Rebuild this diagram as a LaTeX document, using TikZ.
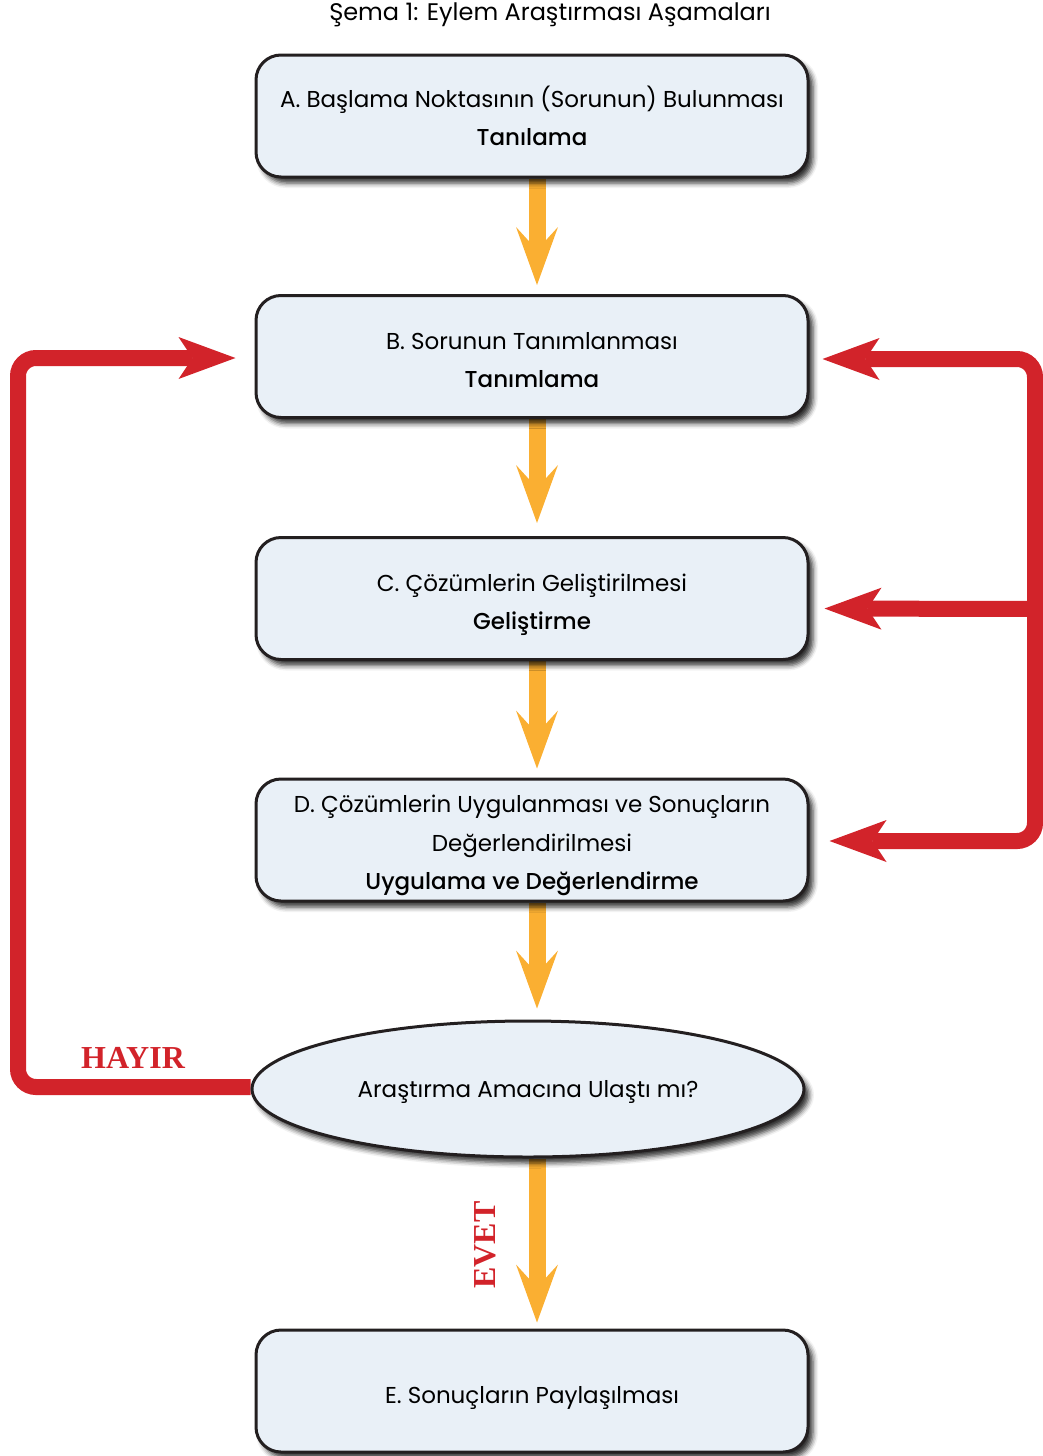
\documentclass[tikz,border=0pt]{standalone}
\usepackage{fontspec}
\setmainfont{Poppins}[BoldFont={Poppins Medium}]
\newfontfamily\answerfont{Liberation Serif}
\usetikzlibrary{arrows.meta,shapes.geometric,shadows.blur}
\definecolor{boxfill}{RGB}{233,240,247}
\definecolor{boxline}{RGB}{35,31,32}
\definecolor{flowred}{RGB}{210,35,42}
\definecolor{floworange}{RGB}{250,175,50}
\pgfdeclarelayer{back}
\pgfsetlayers{back,main}
% invisible strut that lowers the text block inside a box
\newcommand\topstrut[1]{\rule{0pt}{#1}}
\tikzset{
  boxshadow/.style={blur shadow={shadow xshift=5pt, shadow yshift=-6pt,
      shadow blur radius=5pt, shadow opacity=80}},
  stage/.style={draw=boxline, line width=3pt, fill=boxfill, rounded corners=25pt,
      minimum width=552pt, minimum height=122pt, inner sep=0pt, align=center,
      font=\fontsize{23}{38}\selectfont, boxshadow},
  decision/.style={ellipse, draw=boxline, line width=3pt, fill=boxfill,
      minimum width=552pt, minimum height=136pt, inner sep=0pt,
      font=\fontsize{23}{38}\selectfont, boxshadow},
  flow/.style={draw=floworange, line width=17pt, shorten >=9pt,
      -{Stealth[length=58pt, width=42pt, inset=23pt, line width=0pt]}},
  loopback/.style={draw=flowred, line width=16pt, rounded corners=18pt,
      -{Stealth[length=57pt, width=42pt, inset=14pt, line width=0pt]}},
  answer/.style={text=flowred, inner sep=0pt,
      font=\answerfont\bfseries\fontsize{32}{32}\selectfont},
}
\begin{document}
\begin{tikzpicture}[x=1pt, y=-1pt]
\useasboundingbox (0,0) rectangle (1043,1456);

\node[font=\fontsize{24}{28}\selectfont] (title) at (550,15) {Şema 1: Eylem Araştırması Aşamaları};

\node[stage] (A) at (532,116) {A. Başlama Noktasının (Sorunun) Bulunması\\ \textbf{Tanılama}};
\node[stage] (B) at (532,356.5) {\topstrut{24pt}B. Sorunun Tanımlanması\\ \textbf{Tanımlama}};
\node[stage] (C) at (532,598.5) {\topstrut{30pt}C. Çözümlerin Geliştirilmesi\\ \textbf{Geliştirme}};
\node[stage] (D) at (532,840) {\topstrut{28pt}D. Çözümlerin Uygulanması ve Sonuçların\\[1.5pt] Değerlendirilmesi\\ \textbf{Uygulama ve Değerlendirme}};
\node[decision] (Q) at (528,1089) {\topstrut{23pt}Araştırma Amacına Ulaştı mı?};
\node[stage] (E) at (532,1391) {\topstrut{31pt}E. Sonuçların Paylaşılması};

\node[answer] (no) at (133,1058) {HAYIR};
\node[answer, rotate=90] (yes) at (485,1245) {EVET};

% rails of the feedback loops
\coordinate (lx) at (18,0);
\coordinate (rtop) at (1035,359);
\coordinate (rmid) at (1035,609);
\coordinate (rbot) at (1035,841);

\begin{pgfonlayer}{back}
  % main sequence
  \draw[flow] ([xshift=5pt]A.south) -- ([xshift=5pt]B.north);
  \draw[flow, shorten >=13pt] ([xshift=5pt]B.south) -- ([xshift=5pt]C.north);
  \draw[flow, shorten >=9pt] ([xshift=5pt]C.south) -- ([xshift=5pt]D.north);
  \draw[flow, shorten >=11pt] ([xshift=5pt]D.south) -- ([xshift=9pt]Q.north);
  \draw[flow, shorten >=6pt] ([xshift=9pt]Q.south) -- ([xshift=5pt]E.north);

  % "no" branch back to the definition stage
  \draw[loopback, shorten >=19pt] ([yshift=2pt]Q.west) -- ([yshift=2pt]Q.west -| lx)
      |- ([yshift=-1.5pt]B.west);

  % right-hand loop between the stages
  \draw[loopback, {Stealth[length=57pt, width=42pt, inset=14pt, line width=0pt]}-{Stealth[length=57pt, width=42pt, inset=14pt, line width=0pt]},
      shorten <=13pt, shorten >=20pt]
      ([yshift=-2.5pt]B.east) -- (rtop) -- (rbot) -- ([yshift=-1pt]D.east);
  \draw[loopback, rounded corners=0pt, shorten >=15pt] (rmid) -- ([yshift=-10pt]C.east);
\end{pgfonlayer}
\end{tikzpicture}
\end{document}
